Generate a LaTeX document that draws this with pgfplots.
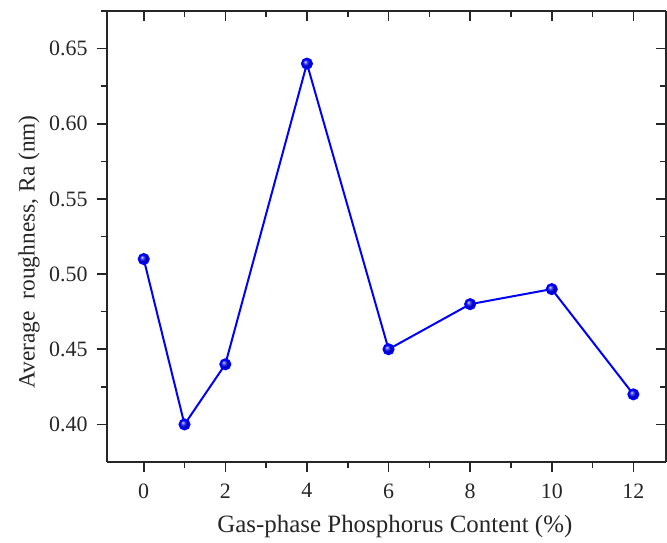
\documentclass[border=0pt]{standalone}
\usepackage{fontspec}
\setmainfont{Liberation Serif}
\usepackage{pgfplots}
\pgfplotsset{compat=1.18}
\begin{document}
\begin{tikzpicture}
\pgfplotsset{
  common/.style={
    at={(0,0)}, anchor=south west,
    scale only axis, width=559bp, height=451bp,
    xmin=-0.9, xmax=12.8, ymin=0.375, ymax=0.675,
    xtick={0,2,...,12}, minor xtick={1,3,...,11},
    ytick={0.40,0.45,...,0.66}, minor ytick={0.425,0.475,...,0.66},
    major tick length=10bp, minor tick length=6bp,
    every tick/.style={black!85, line width=1.6bp},
    axis line style={line width=1.6bp, black!85},
    /pgf/number format/assume math mode=true,
  }
}
\begin{axis}[common,
  axis x line*=bottom, axis y line*=left,
  tick align=outside,
  ticklabel style={font=\fontsize{22}{26}\selectfont, text=black!85},
  xticklabel style={yshift=-8bp},
  yticklabel style={xshift=-6bp, /pgf/number format/.cd, fixed, fixed zerofill, precision=2},
  xlabel={Gas-phase Phosphorus Content (\%)},
  ylabel={Average\ \ roughness, Ra (nm)},
  xlabel style={font=\fontsize{25}{30}\selectfont, text=black!85, at={(axis description cs:0.515,0)}, anchor=center, yshift=-65bp},
  ylabel style={font=\fontsize{23.5}{28}\selectfont, text=black!85, at={(axis description cs:0,0.466)}, anchor=center, yshift=78bp},
  clip=false,
]
\addplot[blue, line width=2bp, mark=ball, mark size=5bp, mark options={ball color=blue}]
coordinates {(0,0.51) (1,0.40) (2,0.44) (4,0.64) (6,0.45) (8,0.48) (10,0.49) (12,0.42)};
\end{axis}
\begin{axis}[common,
  axis x line*=top, axis y line*=right,
  tick align=inside,
  xticklabels={}, yticklabels={},
]
\end{axis}
\pgfresetboundingbox
\path (-107bp,-81bp) rectangle (560bp,462bp);
\end{tikzpicture}
\end{document}
